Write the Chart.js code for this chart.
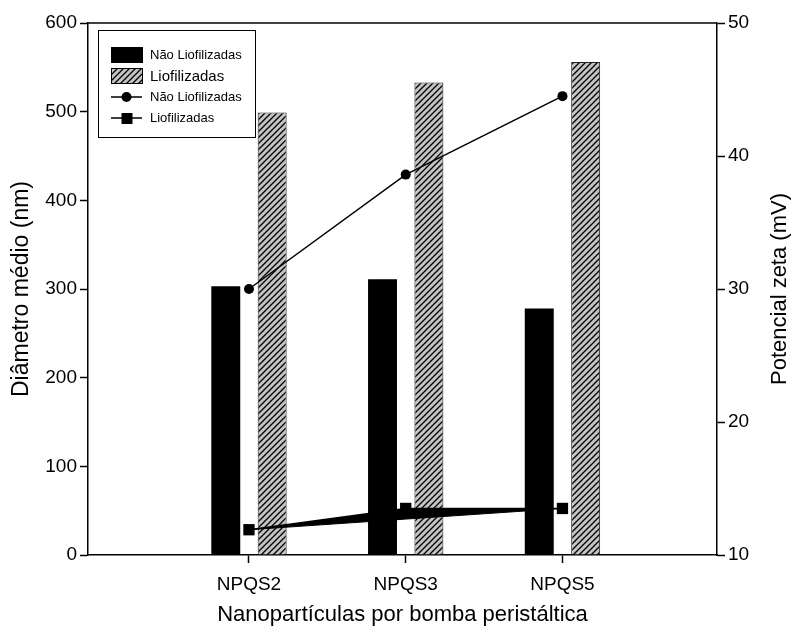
<!DOCTYPE html>
<html>
<head>
<meta charset="utf-8">
<script src="https://cdn.jsdelivr.net/npm/chart.js@4"></script>
<style>
  html, body { margin: 0; padding: 0; background: #fff; }
  #wrap { width: 796px; height: 638px; position: relative; }
</style>
</head>
<body>
<div id="wrap"><canvas id="graphChart"></canvas></div>
<script>
// Nanoparticle size (left axis) and zeta potential (right axis)
const categories = ['NPQS2', 'NPQS3', 'NPQS5'];
const diamNaoLiof = [303, 311, 278];
const diamLiof = [499, 533, 556];
const zetaNaoLiof = [30.0, 38.6, 44.5];
const zetaLiof = [11.9, 13.5, 13.5];
const zetaLiofLower = [11.9, 12.7, 13.5]; // lower edge of the thick trace
const legendLabels = ['Não Liofilizadas', 'Liofilizadas', 'Não Liofilizadas', 'Liofilizadas'];
const rightTitle = 'Potencial zeta (mV)';

const FONT = "'Liberation Sans', Arial, sans-serif";

// groups sit at x = 1, 2, 3 on a numeric axis
const xy = arr => arr.map((v, i) => ({ x: i + 1, y: v }));

const ctx = document.getElementById('graphChart');

function makeHatch() {
  const tile = document.createElement('canvas');
  tile.width = 6;
  tile.height = 6;
  const g = tile.getContext('2d');
  g.fillStyle = '#c4c4c4';
  g.fillRect(0, 0, 6, 6);
  g.strokeStyle = '#000';
  g.lineWidth = 1.3;
  g.beginPath();
  g.moveTo(0, 6); g.lineTo(6, 0);
  g.moveTo(-1, 1); g.lineTo(1, -1);
  g.moveTo(5, 7); g.lineTo(7, 5);
  g.stroke();
  return ctx.getContext('2d').createPattern(tile, 'repeat');
}
const hatch = makeHatch();

// top edge of the frame + right axis title (reads bottom to top)
const frameTop = {
  id: 'frameTop',
  afterDatasetsDraw(chart) {
    const { ctx, chartArea } = chart;
    ctx.save();
    ctx.strokeStyle = '#000';
    ctx.lineWidth = 1.5;
    ctx.beginPath();
    ctx.moveTo(chartArea.left, chartArea.top);
    ctx.lineTo(chartArea.right, chartArea.top);
    ctx.stroke();

    ctx.translate(chart.width - 16, (chartArea.top + chartArea.bottom) / 2);
    ctx.rotate(-Math.PI / 2);
    ctx.fillStyle = '#000';
    ctx.font = '22px ' + FONT;
    ctx.textAlign = 'center';
    ctx.textBaseline = 'middle';
    ctx.fillText(rightTitle, 0, 0);
    ctx.restore();
  }
};

// boxed legend inside the plot, upper left
const boxLegend = {
  id: 'boxLegend',
  afterDraw(chart) {
    const { ctx, chartArea } = chart;
    const bx = chartArea.left + 10;
    const by = chartArea.top + 7;
    ctx.save();
    ctx.fillStyle = '#fff';
    ctx.fillRect(bx, by, 157, 107);
    ctx.strokeStyle = '#000';
    ctx.lineWidth = 1;
    ctx.strokeRect(bx + 0.5, by + 0.5, 157, 107);

    const sx = bx + 13;
    const rows = [by + 25, by + 46, by + 67, by + 88];
    const sizes = [13, 15, 13, 13];

    ctx.fillStyle = '#000';
    ctx.fillRect(sx, rows[0] - 8, 32, 16);

    ctx.fillStyle = hatch;
    ctx.fillRect(sx, rows[1] - 8, 32, 16);
    ctx.strokeRect(sx + 0.5, rows[1] - 7.5, 31, 15);

    ctx.lineWidth = 1.5;
    ctx.beginPath();
    ctx.moveTo(sx, rows[2]); ctx.lineTo(sx + 31, rows[2]);
    ctx.moveTo(sx, rows[3]); ctx.lineTo(sx + 31, rows[3]);
    ctx.stroke();
    ctx.fillStyle = '#000';
    ctx.beginPath();
    ctx.arc(sx + 15.5, rows[2], 5, 0, Math.PI * 2);
    ctx.fill();
    ctx.fillRect(sx + 10.5, rows[3] - 5, 11, 11);

    ctx.textBaseline = 'middle';
    ctx.textAlign = 'left';
    legendLabels.forEach((t, i) => {
      ctx.font = sizes[i] + 'px ' + FONT;
      ctx.fillText(t, sx + 39, rows[i] + 0.5);
    });
    ctx.restore();
  }
};

new Chart(ctx, {
  type: 'bar',
  data: {
    datasets: [
      {
        label: legendLabels[0],
        data: xy(diamNaoLiof),
        backgroundColor: '#000',
        borderWidth: 0,
        yAxisID: 'y',
        categoryPercentage: 0.592,
        barPercentage: 0.624,
        order: 4
      },
      {
        label: legendLabels[1],
        data: xy(diamLiof),
        backgroundColor: hatch,
        borderColor: '#222',
        borderWidth: 1,
        yAxisID: 'y',
        categoryPercentage: 0.592,
        barPercentage: 0.624,
        order: 4
      },
      {
        type: 'line',
        label: legendLabels[2],
        data: xy(zetaNaoLiof),
        borderColor: '#000',
        borderWidth: 1.5,
        pointStyle: 'circle',
        pointRadius: 5,
        pointBackgroundColor: '#000',
        pointBorderWidth: 0,
        tension: 0,
        fill: false,
        yAxisID: 'y1',
        order: 1
      },
      {
        type: 'line',
        label: legendLabels[3],
        data: xy(zetaLiof),
        borderColor: '#000',
        borderWidth: 1.5,
        pointStyle: 'rect',
        pointRadius: 8,
        pointBackgroundColor: '#000',
        pointBorderWidth: 0,
        tension: 0,
        fill: false,
        yAxisID: 'y1',
        order: 2
      },
      {
        type: 'line',
        label: '',
        data: xy(zetaLiofLower),
        borderColor: '#000',
        borderWidth: 1,
        backgroundColor: '#000',
        pointRadius: 0,
        tension: 0,
        fill: 3,
        yAxisID: 'y1',
        order: 3
      }
    ]
  },
  options: {
    responsive: true,
    maintainAspectRatio: false,
    animation: false,
    layout: {
      padding: { top: 23, left: 0, right: 0, bottom: 0 }
    },
    plugins: {
      legend: { display: false },
      tooltip: { enabled: false },
      title: { display: false }
    },
    scales: {
      x: {
        type: 'linear',
        min: -0.027,
        max: 3.986,
        offset: false,
        grid: {
          offset: false,
          drawOnChartArea: false,
          drawTicks: true,
          tickLength: 8,
          tickWidth: 1.5,
          color: '#000'
        },
        border: { display: true, color: '#000', width: 1.5 },
        afterBuildTicks(scale) {
          scale.ticks = categories.map((c, i) => ({ value: i + 1 }));
        },
        ticks: {
          autoSkip: false,
          maxRotation: 0,
          color: '#000',
          padding: 10,
          font: { family: FONT, size: 19 },
          callback: v => categories[v - 1]
        },
        title: {
          display: true,
          text: 'Nanopartículas por bomba peristáltica',
          color: '#000',
          padding: { top: 0, bottom: 10 },
          font: { family: FONT, size: 22 }
        },
        afterFit(scale) { scale.height = 83; }
      },
      y: {
        position: 'left',
        min: 0,
        max: 600,
        grid: {
          drawOnChartArea: false,
          tickLength: 8,
          tickWidth: 1.5,
          color: '#000'
        },
        border: { display: true, color: '#000', width: 1.5 },
        ticks: {
          stepSize: 100,
          color: '#000',
          padding: 3,
          font: { family: FONT, size: 19 }
        },
        title: {
          display: true,
          text: 'Diâmetro médio (nm)',
          color: '#000',
          padding: { top: 8, bottom: 0 },
          font: { family: FONT, size: 23 }
        },
        afterFit(scale) { scale.width = 88; }
      },
      y1: {
        position: 'right',
        min: 10,
        max: 50,
        grid: {
          drawOnChartArea: false,
          tickLength: 8,
          tickWidth: 1.5,
          color: '#000'
        },
        border: { display: true, color: '#000', width: 1.5 },
        ticks: {
          stepSize: 10,
          color: '#000',
          padding: 3,
          font: { family: FONT, size: 19 }
        },
        title: { display: false },
        afterFit(scale) { scale.width = 79; }
      }
    }
  },
  plugins: [frameTop, boxLegend]
});
</script>
</body>
</html>
